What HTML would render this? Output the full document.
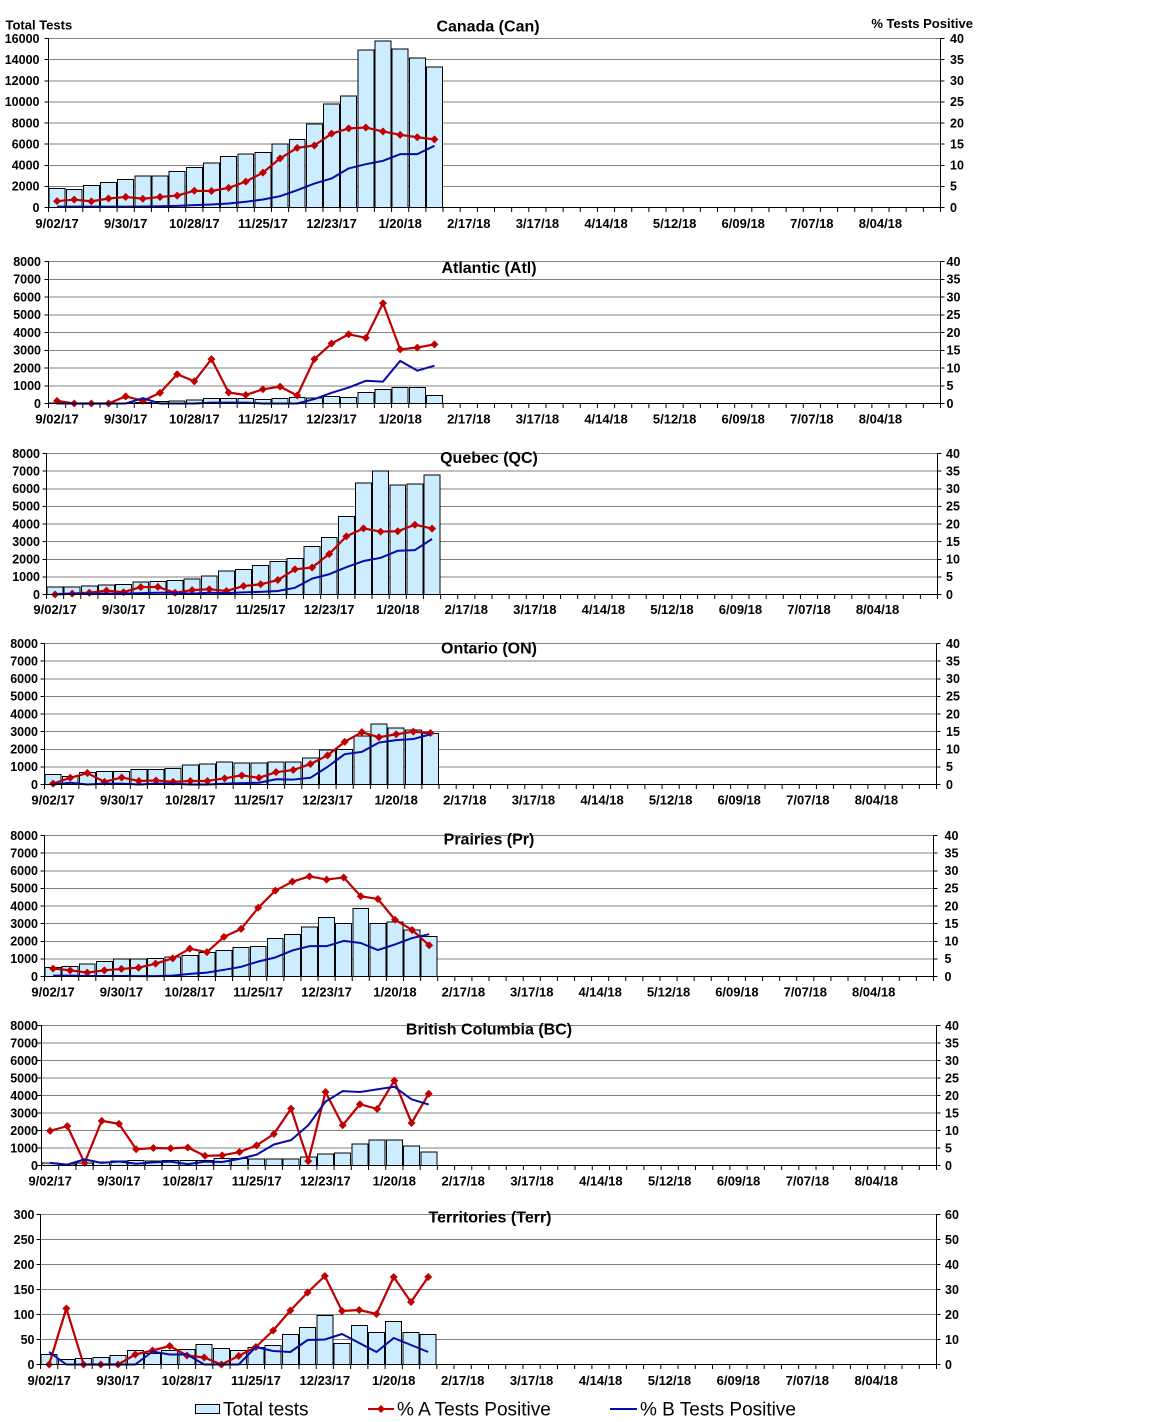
<!DOCTYPE html>
<html><head><meta charset="utf-8"><style>
body{margin:0;background:#fff}
svg{display:block;font-family:"Liberation Sans",Arial,sans-serif}
.g{stroke:#808080;stroke-width:1;fill:none;shape-rendering:crispEdges}
.ax{stroke:#000;stroke-width:1;fill:none;shape-rendering:crispEdges}
.tk{stroke:#000;stroke-width:4;fill:none}
.yl{font-size:12.5px;font-weight:bold;text-anchor:end}
.yr{font-size:12.5px;font-weight:bold}
.xl{font-size:13px;font-weight:bold;text-anchor:middle}
.tt{font-size:16px;font-weight:bold;text-anchor:middle}
.bars rect{fill:#CCECFF;stroke:#000;stroke-width:1;vector-effect:non-scaling-stroke;shape-rendering:crispEdges}
.ra{fill:none;stroke:#C00000;stroke-width:2.2;stroke-linejoin:round;vector-effect:non-scaling-stroke}
.bl{fill:none;stroke:#0A0AA8;stroke-width:2;stroke-linejoin:round;vector-effect:non-scaling-stroke}
.mk{fill:#C00000}
.lg{font-size:19px}
</style></head><body>
<svg width="1152" height="1422" viewBox="0 0 1152 1422">
<defs>
<path id="mC" d="M-.233 0L0 378.7L.233 0L0 -378.7Z"/>
<path id="mA" d="M-.233 0L0 225.4L.233 0L0 -225.4Z"/>
<path id="mQ" d="M-.233 0L0 227L.233 0L0 -227Z"/>
<path id="mP" d="M-.234 0L0 227L.234 0L0 -227Z"/>
<path id="mB" d="M-.232 0L0 228.6L.232 0L0 -228.6Z"/>
<path id="mT" d="M-.232 0L0 8L.232 0L0 -8Z"/>
</defs>
<rect width="1152" height="1422" fill="#fff"/>

<text x="5.5" y="29.3" style="font-size:13px;font-weight:bold">Total Tests</text>
<text x="973" y="28" style="font-size:13px;font-weight:bold;text-anchor:end">%  Tests  Positive</text>

<!-- ===== CANADA ===== -->
<g transform="translate(48.5,38.5)">
<path class="g" d="M0 0H892M0 21.125H892M0 42.25H892M0 63.375H892M0 84.5H892M0 105.625H892M0 126.75H892M0 147.875H892"/>
<g transform="translate(0,169) scale(17.1538,-0.0105625)">
<g class="bars">
<rect x="0.035" width=".93" height="1800"/><rect x="1.035" width=".93" height="1700"/><rect x="2.035" width=".93" height="2100"/><rect x="3.035" width=".93" height="2350"/><rect x="4.035" width=".93" height="2650"/><rect x="5.035" width=".93" height="3000"/><rect x="6.035" width=".93" height="3000"/><rect x="7.035" width=".93" height="3400"/><rect x="8.035" width=".93" height="3800"/><rect x="9.035" width=".93" height="4200"/><rect x="10.035" width=".93" height="4850"/><rect x="11.035" width=".93" height="5050"/><rect x="12.035" width=".93" height="5200"/><rect x="13.035" width=".93" height="6000"/><rect x="14.035" width=".93" height="6450"/><rect x="15.035" width=".93" height="7900"/><rect x="16.035" width=".93" height="9800"/><rect x="17.035" width=".93" height="10550"/><rect x="18.035" width=".93" height="14900"/><rect x="19.035" width=".93" height="15750"/><rect x="20.035" width=".93" height="15000"/><rect x="21.035" width=".93" height="14150"/><rect x="22.035" width=".93" height="13300"/>
</g>
<polyline class="ra" points="0.5,600 1.5,750 2.5,580 3.5,850 4.5,1000 5.5,830 6.5,1000 7.5,1130 8.5,1580 9.5,1560 10.5,1860 11.5,2450 12.5,3300 13.5,4650 14.5,5650 15.5,5870 16.5,6990 17.5,7490 18.5,7570 19.5,7200 20.5,6880 21.5,6650 22.5,6450"/>
<g class="mk"><use href="#mC" x="0.5" y="600"/><use href="#mC" x="1.5" y="750"/><use href="#mC" x="2.5" y="580"/><use href="#mC" x="3.5" y="850"/><use href="#mC" x="4.5" y="1000"/><use href="#mC" x="5.5" y="830"/><use href="#mC" x="6.5" y="1000"/><use href="#mC" x="7.5" y="1130"/><use href="#mC" x="8.5" y="1580"/><use href="#mC" x="9.5" y="1560"/><use href="#mC" x="10.5" y="1860"/><use href="#mC" x="11.5" y="2450"/><use href="#mC" x="12.5" y="3300"/><use href="#mC" x="13.5" y="4650"/><use href="#mC" x="14.5" y="5650"/><use href="#mC" x="15.5" y="5870"/><use href="#mC" x="16.5" y="6990"/><use href="#mC" x="17.5" y="7490"/><use href="#mC" x="18.5" y="7570"/><use href="#mC" x="19.5" y="7200"/><use href="#mC" x="20.5" y="6880"/><use href="#mC" x="21.5" y="6650"/><use href="#mC" x="22.5" y="6450"/></g>
<polyline class="bl" points="0.5,80 1.5,80 2.5,80 3.5,80 4.5,80 5.5,100 6.5,120 7.5,150 8.5,220 9.5,280 10.5,380 11.5,540 12.5,760 13.5,1070 14.5,1640 15.5,2270 16.5,2750 17.5,3700 18.5,4100 19.5,4420 20.5,5050 21.5,5050 22.5,5840"/>
</g>
<line class="tk" x1="-0.5" y1="171.5" x2="892.5" y2="171.5" stroke-dasharray="1 16.1538"/>
<path class="ax" d="M0 0V169H892V0M-4 0H0M-4 21.125H0M-4 42.25H0M-4 63.375H0M-4 84.5H0M-4 105.625H0M-4 126.75H0M-4 147.875H0M-4 169H0M892 0H896M892 21.125H896M892 42.25H896M892 63.375H896M892 84.5H896M892 105.625H896M892 126.75H896M892 147.875H896M892 169H896"/>
<text class="tt" x="439.5" y="-7">Canada (Can)</text>
<text class="yl" x="-9" y="4.3">16000</text><text class="yl" x="-9" y="25.4">14000</text><text class="yl" x="-9" y="46.6">12000</text><text class="yl" x="-9" y="67.7">10000</text><text class="yl" x="-9" y="88.8">8000</text><text class="yl" x="-9" y="109.9">6000</text><text class="yl" x="-9" y="131.1">4000</text><text class="yl" x="-9" y="152.2">2000</text><text class="yl" x="-9" y="173.3">0</text>
<text class="yr" x="901.5" y="4.3">40</text><text class="yr" x="901.5" y="25.4">35</text><text class="yr" x="901.5" y="46.6">30</text><text class="yr" x="901.5" y="67.7">25</text><text class="yr" x="901.5" y="88.8">20</text><text class="yr" x="901.5" y="109.9">15</text><text class="yr" x="901.5" y="131.1">10</text><text class="yr" x="901.5" y="152.2">5</text><text class="yr" x="901.5" y="173.3">0</text>
<text class="xl" x="8.58" y="189.5">9/02/17</text><text class="xl" x="77.19" y="189.5">9/30/17</text><text class="xl" x="145.81" y="189.5">10/28/17</text><text class="xl" x="214.42" y="189.5">11/25/17</text><text class="xl" x="283.04" y="189.5">12/23/17</text><text class="xl" x="351.65" y="189.5">1/20/18</text><text class="xl" x="420.27" y="189.5">2/17/18</text><text class="xl" x="488.88" y="189.5">3/17/18</text><text class="xl" x="557.5" y="189.5">4/14/18</text><text class="xl" x="626.12" y="189.5">5/12/18</text><text class="xl" x="694.73" y="189.5">6/09/18</text><text class="xl" x="763.35" y="189.5">7/07/18</text><text class="xl" x="831.96" y="189.5">8/04/18</text>
</g>

<!-- ===== ATLANTIC ===== -->
<g transform="translate(48.5,261.5)">
<path class="g" d="M0 0H892M0 17.75H892M0 35.5H892M0 53.25H892M0 71H892M0 88.75H892M0 106.5H892M0 124.25H892"/>
<g transform="translate(0,142) scale(17.1538,-0.01775)">
<g class="bars">
<rect x="0.035" width=".93" height="30"/><rect x="1.035" width=".93" height="30"/><rect x="2.035" width=".93" height="30"/><rect x="3.035" width=".93" height="30"/><rect x="4.035" width=".93" height="40"/><rect x="5.035" width=".93" height="60"/><rect x="6.035" width=".93" height="100"/><rect x="7.035" width=".93" height="150"/><rect x="8.035" width=".93" height="200"/><rect x="9.035" width=".93" height="270"/><rect x="10.035" width=".93" height="270"/><rect x="11.035" width=".93" height="270"/><rect x="12.035" width=".93" height="220"/><rect x="13.035" width=".93" height="270"/><rect x="14.035" width=".93" height="330"/><rect x="15.035" width=".93" height="300"/><rect x="16.035" width=".93" height="400"/><rect x="17.035" width=".93" height="330"/><rect x="18.035" width=".93" height="620"/><rect x="19.035" width=".93" height="800"/><rect x="20.035" width=".93" height="900"/><rect x="21.035" width=".93" height="900"/><rect x="22.035" width=".93" height="450"/>
</g>
<polyline class="ra" points="0.5,150 1.5,0 2.5,0 3.5,0 4.5,400 5.5,150 6.5,600 7.5,1650 8.5,1250 9.5,2500 10.5,620 11.5,480 12.5,800 13.5,950 14.5,450 15.5,2500 16.5,3380 17.5,3900 18.5,3700 19.5,5650 20.5,3050 21.5,3150 22.5,3330"/>
<g class="mk"><use href="#mA" x="0.5" y="150"/><use href="#mA" x="1.5" y="0"/><use href="#mA" x="2.5" y="0"/><use href="#mA" x="3.5" y="0"/><use href="#mA" x="4.5" y="400"/><use href="#mA" x="5.5" y="150"/><use href="#mA" x="6.5" y="600"/><use href="#mA" x="7.5" y="1650"/><use href="#mA" x="8.5" y="1250"/><use href="#mA" x="9.5" y="2500"/><use href="#mA" x="10.5" y="620"/><use href="#mA" x="11.5" y="480"/><use href="#mA" x="12.5" y="800"/><use href="#mA" x="13.5" y="950"/><use href="#mA" x="14.5" y="450"/><use href="#mA" x="15.5" y="2500"/><use href="#mA" x="16.5" y="3380"/><use href="#mA" x="17.5" y="3900"/><use href="#mA" x="18.5" y="3700"/><use href="#mA" x="19.5" y="5650"/><use href="#mA" x="20.5" y="3050"/><use href="#mA" x="21.5" y="3150"/><use href="#mA" x="22.5" y="3330"/></g>
<polyline class="bl" points="0.5,0 1.5,0 2.5,0 3.5,0 4.5,0 5.5,300 6.5,0 7.5,0 8.5,0 9.5,50 10.5,50 11.5,50 12.5,0 13.5,0 14.5,0 15.5,250 16.5,600 17.5,900 18.5,1280 19.5,1230 20.5,2400 21.5,1850 22.5,2130"/>
</g>
<line class="tk" x1="-0.5" y1="144.5" x2="892.5" y2="144.5" stroke-dasharray="1 16.1538"/>
<path class="ax" d="M0 0V142H892V0M-4 0H0M-4 17.75H0M-4 35.5H0M-4 53.25H0M-4 71H0M-4 88.75H0M-4 106.5H0M-4 124.25H0M-4 142H0M892 0H896M892 17.75H896M892 35.5H896M892 53.25H896M892 71H896M892 88.75H896M892 106.5H896M892 124.25H896M892 142H896"/>
<text class="tt" x="440.5" y="11.7">Atlantic (Atl)</text>
<text class="yl" x="-7.5" y="4.3">8000</text><text class="yl" x="-7.5" y="22">7000</text><text class="yl" x="-7.5" y="39.8">6000</text><text class="yl" x="-7.5" y="57.5">5000</text><text class="yl" x="-7.5" y="75.3">4000</text><text class="yl" x="-7.5" y="93">3000</text><text class="yl" x="-7.5" y="110.8">2000</text><text class="yl" x="-7.5" y="128.5">1000</text><text class="yl" x="-7.5" y="146.3">0</text>
<text class="yr" x="898" y="4.3">40</text><text class="yr" x="898" y="22">35</text><text class="yr" x="898" y="39.8">30</text><text class="yr" x="898" y="57.5">25</text><text class="yr" x="898" y="75.3">20</text><text class="yr" x="898" y="93">15</text><text class="yr" x="898" y="110.8">10</text><text class="yr" x="898" y="128.5">5</text><text class="yr" x="898" y="146.3">0</text>
<text class="xl" x="8.58" y="162">9/02/17</text><text class="xl" x="77.19" y="162">9/30/17</text><text class="xl" x="145.81" y="162">10/28/17</text><text class="xl" x="214.42" y="162">11/25/17</text><text class="xl" x="283.04" y="162">12/23/17</text><text class="xl" x="351.65" y="162">1/20/18</text><text class="xl" x="420.27" y="162">2/17/18</text><text class="xl" x="488.88" y="162">3/17/18</text><text class="xl" x="557.5" y="162">4/14/18</text><text class="xl" x="626.12" y="162">5/12/18</text><text class="xl" x="694.73" y="162">6/09/18</text><text class="xl" x="763.35" y="162">7/07/18</text><text class="xl" x="831.96" y="162">8/04/18</text>
</g>

<!-- ===== QUEBEC ===== -->
<g transform="translate(46.5,453.5)">
<path class="g" d="M0 0H891M0 17.625H891M0 35.25H891M0 52.875H891M0 70.5H891M0 88.125H891M0 105.75H891M0 123.375H891"/>
<g transform="translate(0,141) scale(17.1346,-0.017625)">
<g class="bars">
<rect x="0.035" width=".93" height="430"/><rect x="1.035" width=".93" height="430"/><rect x="2.035" width=".93" height="480"/><rect x="3.035" width=".93" height="530"/><rect x="4.035" width=".93" height="580"/><rect x="5.035" width=".93" height="700"/><rect x="6.035" width=".93" height="750"/><rect x="7.035" width=".93" height="800"/><rect x="8.035" width=".93" height="880"/><rect x="9.035" width=".93" height="1050"/><rect x="10.035" width=".93" height="1330"/><rect x="11.035" width=".93" height="1430"/><rect x="12.035" width=".93" height="1650"/><rect x="13.035" width=".93" height="1880"/><rect x="14.035" width=".93" height="2050"/><rect x="15.035" width=".93" height="2730"/><rect x="16.035" width=".93" height="3230"/><rect x="17.035" width=".93" height="4420"/><rect x="18.035" width=".93" height="6330"/><rect x="19.035" width=".93" height="7000"/><rect x="20.035" width=".93" height="6200"/><rect x="21.035" width=".93" height="6270"/><rect x="22.035" width=".93" height="6780"/>
</g>
<polyline class="ra" points="0.5,0 1.5,50 2.5,100 3.5,220 4.5,130 5.5,420 6.5,430 7.5,100 8.5,250 9.5,300 10.5,200 11.5,480 12.5,580 13.5,820 14.5,1430 15.5,1530 16.5,2300 17.5,3300 18.5,3750 19.5,3570 20.5,3590 21.5,3960 22.5,3740"/>
<g class="mk"><use href="#mQ" x="0.5" y="0"/><use href="#mQ" x="1.5" y="50"/><use href="#mQ" x="2.5" y="100"/><use href="#mQ" x="3.5" y="220"/><use href="#mQ" x="4.5" y="130"/><use href="#mQ" x="5.5" y="420"/><use href="#mQ" x="6.5" y="430"/><use href="#mQ" x="7.5" y="100"/><use href="#mQ" x="8.5" y="250"/><use href="#mQ" x="9.5" y="300"/><use href="#mQ" x="10.5" y="200"/><use href="#mQ" x="11.5" y="480"/><use href="#mQ" x="12.5" y="580"/><use href="#mQ" x="13.5" y="820"/><use href="#mQ" x="14.5" y="1430"/><use href="#mQ" x="15.5" y="1530"/><use href="#mQ" x="16.5" y="2300"/><use href="#mQ" x="17.5" y="3300"/><use href="#mQ" x="18.5" y="3750"/><use href="#mQ" x="19.5" y="3570"/><use href="#mQ" x="20.5" y="3590"/><use href="#mQ" x="21.5" y="3960"/><use href="#mQ" x="22.5" y="3740"/></g>
<polyline class="bl" points="0.5,30 1.5,50 2.5,50 3.5,50 4.5,50 5.5,80 6.5,100 7.5,100 8.5,50 9.5,100 10.5,80 11.5,120 12.5,150 13.5,200 14.5,380 15.5,900 16.5,1150 17.5,1550 18.5,1900 19.5,2080 20.5,2480 21.5,2520 22.5,3150"/>
</g>
<line class="tk" x1="-0.5" y1="143.5" x2="891.5" y2="143.5" stroke-dasharray="1 16.1346"/>
<path class="ax" d="M0 0V141H891V0M-4 0H0M-4 17.625H0M-4 35.25H0M-4 52.875H0M-4 70.5H0M-4 88.125H0M-4 105.75H0M-4 123.375H0M-4 141H0M891 0H895M891 17.625H895M891 35.25H895M891 52.875H895M891 70.5H895M891 88.125H895M891 105.75H895M891 123.375H895M891 141H895"/>
<text class="tt" x="442.5" y="9.5">Quebec (QC)</text>
<text class="yl" x="-6.5" y="4.3">8000</text><text class="yl" x="-6.5" y="21.9">7000</text><text class="yl" x="-6.5" y="39.6">6000</text><text class="yl" x="-6.5" y="57.2">5000</text><text class="yl" x="-6.5" y="74.8">4000</text><text class="yl" x="-6.5" y="92.4">3000</text><text class="yl" x="-6.5" y="110.1">2000</text><text class="yl" x="-6.5" y="127.7">1000</text><text class="yl" x="-6.5" y="145.3">0</text>
<text class="yr" x="899.5" y="4.3">40</text><text class="yr" x="899.5" y="21.9">35</text><text class="yr" x="899.5" y="39.6">30</text><text class="yr" x="899.5" y="57.2">25</text><text class="yr" x="899.5" y="74.8">20</text><text class="yr" x="899.5" y="92.4">15</text><text class="yr" x="899.5" y="110.1">10</text><text class="yr" x="899.5" y="127.7">5</text><text class="yr" x="899.5" y="145.3">0</text>
<text class="xl" x="8.57" y="160.5">9/02/17</text><text class="xl" x="77.11" y="160.5">9/30/17</text><text class="xl" x="145.64" y="160.5">10/28/17</text><text class="xl" x="214.18" y="160.5">11/25/17</text><text class="xl" x="282.72" y="160.5">12/23/17</text><text class="xl" x="351.26" y="160.5">1/20/18</text><text class="xl" x="419.8" y="160.5">2/17/18</text><text class="xl" x="488.34" y="160.5">3/17/18</text><text class="xl" x="556.87" y="160.5">4/14/18</text><text class="xl" x="625.41" y="160.5">5/12/18</text><text class="xl" x="693.95" y="160.5">6/09/18</text><text class="xl" x="762.49" y="160.5">7/07/18</text><text class="xl" x="831.03" y="160.5">8/04/18</text>
</g>

<!-- ===== ONTARIO ===== -->
<g transform="translate(44.5,643.5)">
<path class="g" d="M0 0H892M0 17.625H892M0 35.25H892M0 52.875H892M0 70.5H892M0 88.125H892M0 105.75H892M0 123.375H892"/>
<g transform="translate(0,141) scale(17.1538,-0.017625)">
<g class="bars">
<rect x="0.035" width=".93" height="580"/><rect x="1.035" width=".93" height="450"/><rect x="2.035" width=".93" height="680"/><rect x="3.035" width=".93" height="750"/><rect x="4.035" width=".93" height="750"/><rect x="5.035" width=".93" height="850"/><rect x="6.035" width=".93" height="850"/><rect x="7.035" width=".93" height="920"/><rect x="8.035" width=".93" height="1100"/><rect x="9.035" width=".93" height="1150"/><rect x="10.035" width=".93" height="1280"/><rect x="11.035" width=".93" height="1220"/><rect x="12.035" width=".93" height="1220"/><rect x="13.035" width=".93" height="1280"/><rect x="14.035" width=".93" height="1280"/><rect x="15.035" width=".93" height="1500"/><rect x="16.035" width=".93" height="1960"/><rect x="17.035" width=".93" height="2000"/><rect x="18.035" width=".93" height="2740"/><rect x="19.035" width=".93" height="3420"/><rect x="20.035" width=".93" height="3200"/><rect x="21.035" width=".93" height="3080"/><rect x="22.035" width=".93" height="2900"/>
</g>
<polyline class="ra" points="0.5,50 1.5,380 2.5,650 3.5,150 4.5,400 5.5,200 6.5,230 7.5,150 8.5,200 9.5,200 10.5,350 11.5,520 12.5,380 13.5,700 14.5,820 15.5,1160 16.5,1650 17.5,2420 18.5,2970 19.5,2680 20.5,2850 21.5,3000 22.5,2920"/>
<g class="mk"><use href="#mQ" x="0.5" y="50"/><use href="#mQ" x="1.5" y="380"/><use href="#mQ" x="2.5" y="650"/><use href="#mQ" x="3.5" y="150"/><use href="#mQ" x="4.5" y="400"/><use href="#mQ" x="5.5" y="200"/><use href="#mQ" x="6.5" y="230"/><use href="#mQ" x="7.5" y="150"/><use href="#mQ" x="8.5" y="200"/><use href="#mQ" x="9.5" y="200"/><use href="#mQ" x="10.5" y="350"/><use href="#mQ" x="11.5" y="520"/><use href="#mQ" x="12.5" y="380"/><use href="#mQ" x="13.5" y="700"/><use href="#mQ" x="14.5" y="820"/><use href="#mQ" x="15.5" y="1160"/><use href="#mQ" x="16.5" y="1650"/><use href="#mQ" x="17.5" y="2420"/><use href="#mQ" x="18.5" y="2970"/><use href="#mQ" x="19.5" y="2680"/><use href="#mQ" x="20.5" y="2850"/><use href="#mQ" x="21.5" y="3000"/><use href="#mQ" x="22.5" y="2920"/></g>
<polyline class="bl" points="0.5,0 1.5,100 2.5,0 3.5,50 4.5,50 5.5,0 6.5,50 7.5,50 8.5,0 9.5,0 10.5,50 11.5,80 12.5,100 13.5,300 14.5,280 15.5,380 16.5,1000 17.5,1720 18.5,1850 19.5,2380 20.5,2520 21.5,2580 22.5,2850"/>
</g>
<line class="tk" x1="-0.5" y1="143.5" x2="892.5" y2="143.5" stroke-dasharray="1 16.1538"/>
<path class="ax" d="M0 0V141H892V0M-4 0H0M-4 17.625H0M-4 35.25H0M-4 52.875H0M-4 70.5H0M-4 88.125H0M-4 105.75H0M-4 123.375H0M-4 141H0M892 0H896M892 17.625H896M892 35.25H896M892 52.875H896M892 70.5H896M892 88.125H896M892 105.75H896M892 123.375H896M892 141H896"/>
<text class="tt" x="444.5" y="10">Ontario (ON)</text>
<text class="yl" x="-6.5" y="4.3">8000</text><text class="yl" x="-6.5" y="21.9">7000</text><text class="yl" x="-6.5" y="39.6">6000</text><text class="yl" x="-6.5" y="57.2">5000</text><text class="yl" x="-6.5" y="74.8">4000</text><text class="yl" x="-6.5" y="92.4">3000</text><text class="yl" x="-6.5" y="110.1">2000</text><text class="yl" x="-6.5" y="127.7">1000</text><text class="yl" x="-6.5" y="145.3">0</text>
<text class="yr" x="901.5" y="4.3">40</text><text class="yr" x="901.5" y="21.9">35</text><text class="yr" x="901.5" y="39.6">30</text><text class="yr" x="901.5" y="57.2">25</text><text class="yr" x="901.5" y="74.8">20</text><text class="yr" x="901.5" y="92.4">15</text><text class="yr" x="901.5" y="110.1">10</text><text class="yr" x="901.5" y="127.7">5</text><text class="yr" x="901.5" y="145.3">0</text>
<text class="xl" x="8.58" y="161">9/02/17</text><text class="xl" x="77.19" y="161">9/30/17</text><text class="xl" x="145.81" y="161">10/28/17</text><text class="xl" x="214.42" y="161">11/25/17</text><text class="xl" x="283.04" y="161">12/23/17</text><text class="xl" x="351.65" y="161">1/20/18</text><text class="xl" x="420.27" y="161">2/17/18</text><text class="xl" x="488.88" y="161">3/17/18</text><text class="xl" x="557.5" y="161">4/14/18</text><text class="xl" x="626.12" y="161">5/12/18</text><text class="xl" x="694.73" y="161">6/09/18</text><text class="xl" x="763.35" y="161">7/07/18</text><text class="xl" x="831.96" y="161">8/04/18</text>
</g>

<!-- ===== PRAIRIES ===== -->
<g transform="translate(44.5,835.5)">
<path class="g" d="M0 0H889M0 17.625H889M0 35.25H889M0 52.875H889M0 70.5H889M0 88.125H889M0 105.75H889M0 123.375H889"/>
<g transform="translate(0,141) scale(17.0962,-0.017625)">
<g class="bars">
<rect x="0.035" width=".93" height="500"/><rect x="1.035" width=".93" height="580"/><rect x="2.035" width=".93" height="700"/><rect x="3.035" width=".93" height="850"/><rect x="4.035" width=".93" height="980"/><rect x="5.035" width=".93" height="980"/><rect x="6.035" width=".93" height="1020"/><rect x="7.035" width=".93" height="1100"/><rect x="8.035" width=".93" height="1200"/><rect x="9.035" width=".93" height="1350"/><rect x="10.035" width=".93" height="1480"/><rect x="11.035" width=".93" height="1650"/><rect x="12.035" width=".93" height="1700"/><rect x="13.035" width=".93" height="2150"/><rect x="14.035" width=".93" height="2380"/><rect x="15.035" width=".93" height="2820"/><rect x="16.035" width=".93" height="3350"/><rect x="17.035" width=".93" height="3000"/><rect x="18.035" width=".93" height="3870"/><rect x="19.035" width=".93" height="3000"/><rect x="20.035" width=".93" height="3100"/><rect x="21.035" width=".93" height="2650"/><rect x="22.035" width=".93" height="2270"/>
</g>
<polyline class="ra" points="0.5,450 1.5,350 2.5,220 3.5,350 4.5,430 5.5,500 6.5,730 7.5,1030 8.5,1580 9.5,1380 10.5,2250 11.5,2700 12.5,3900 13.5,4870 14.5,5380 15.5,5680 16.5,5500 17.5,5620 18.5,4550 19.5,4400 20.5,3220 21.5,2640 22.5,1770"/>
<g class="mk"><use href="#mP" x="0.5" y="450"/><use href="#mP" x="1.5" y="350"/><use href="#mP" x="2.5" y="220"/><use href="#mP" x="3.5" y="350"/><use href="#mP" x="4.5" y="430"/><use href="#mP" x="5.5" y="500"/><use href="#mP" x="6.5" y="730"/><use href="#mP" x="7.5" y="1030"/><use href="#mP" x="8.5" y="1580"/><use href="#mP" x="9.5" y="1380"/><use href="#mP" x="10.5" y="2250"/><use href="#mP" x="11.5" y="2700"/><use href="#mP" x="12.5" y="3900"/><use href="#mP" x="13.5" y="4870"/><use href="#mP" x="14.5" y="5380"/><use href="#mP" x="15.5" y="5680"/><use href="#mP" x="16.5" y="5500"/><use href="#mP" x="17.5" y="5620"/><use href="#mP" x="18.5" y="4550"/><use href="#mP" x="19.5" y="4400"/><use href="#mP" x="20.5" y="3220"/><use href="#mP" x="21.5" y="2640"/><use href="#mP" x="22.5" y="1770"/></g>
<polyline class="bl" points="0.5,50 1.5,50 2.5,30 3.5,30 4.5,30 5.5,20 6.5,20 7.5,50 8.5,150 9.5,220 10.5,380 11.5,550 12.5,850 13.5,1080 14.5,1480 15.5,1720 16.5,1720 17.5,2020 18.5,1900 19.5,1500 20.5,1820 21.5,2180 22.5,2400"/>
</g>
<line class="tk" x1="-0.5" y1="143.5" x2="889.5" y2="143.5" stroke-dasharray="1 16.0962"/>
<path class="ax" d="M0 0V141H889V0M-4 0H0M-4 17.625H0M-4 35.25H0M-4 52.875H0M-4 70.5H0M-4 88.125H0M-4 105.75H0M-4 123.375H0M-4 141H0M889 0H893M889 17.625H893M889 35.25H893M889 52.875H893M889 70.5H893M889 88.125H893M889 105.75H893M889 123.375H893M889 141H893"/>
<text class="tt" x="444.5" y="9">Prairies (Pr)</text>
<text class="yl" x="-6.5" y="4.3">8000</text><text class="yl" x="-6.5" y="21.9">7000</text><text class="yl" x="-6.5" y="39.6">6000</text><text class="yl" x="-6.5" y="57.2">5000</text><text class="yl" x="-6.5" y="74.8">4000</text><text class="yl" x="-6.5" y="92.4">3000</text><text class="yl" x="-6.5" y="110.1">2000</text><text class="yl" x="-6.5" y="127.7">1000</text><text class="yl" x="-6.5" y="145.3">0</text>
<text class="yr" x="900" y="4.3">40</text><text class="yr" x="900" y="21.9">35</text><text class="yr" x="900" y="39.6">30</text><text class="yr" x="900" y="57.2">25</text><text class="yr" x="900" y="74.8">20</text><text class="yr" x="900" y="92.4">15</text><text class="yr" x="900" y="110.1">10</text><text class="yr" x="900" y="127.7">5</text><text class="yr" x="900" y="145.3">0</text>
<text class="xl" x="8.55" y="161">9/02/17</text><text class="xl" x="76.93" y="161">9/30/17</text><text class="xl" x="145.32" y="161">10/28/17</text><text class="xl" x="213.7" y="161">11/25/17</text><text class="xl" x="282.09" y="161">12/23/17</text><text class="xl" x="350.47" y="161">1/20/18</text><text class="xl" x="418.86" y="161">2/17/18</text><text class="xl" x="487.24" y="161">3/17/18</text><text class="xl" x="555.63" y="161">4/14/18</text><text class="xl" x="624.01" y="161">5/12/18</text><text class="xl" x="692.4" y="161">6/09/18</text><text class="xl" x="760.78" y="161">7/07/18</text><text class="xl" x="829.17" y="161">8/04/18</text>
</g>

<!-- ===== BRITISH COLUMBIA ===== -->
<g transform="translate(41.5,1025.5)">
<path class="g" d="M0 0H895M0 17.5H895M0 35H895M0 52.5H895M0 70H895M0 87.5H895M0 105H895M0 122.5H895"/>
<g transform="translate(0,140) scale(17.2115,-0.0175)">
<g class="bars">
<rect x="0.035" width=".93" height="150"/><rect x="1.035" width=".93" height="100"/><rect x="2.035" width=".93" height="150"/><rect x="3.035" width=".93" height="200"/><rect x="4.035" width=".93" height="250"/><rect x="5.035" width=".93" height="300"/><rect x="6.035" width=".93" height="250"/><rect x="7.035" width=".93" height="300"/><rect x="8.035" width=".93" height="300"/><rect x="9.035" width=".93" height="300"/><rect x="10.035" width=".93" height="400"/><rect x="11.035" width=".93" height="400"/><rect x="12.035" width=".93" height="380"/><rect x="13.035" width=".93" height="380"/><rect x="14.035" width=".93" height="380"/><rect x="15.035" width=".93" height="480"/><rect x="16.035" width=".93" height="650"/><rect x="17.035" width=".93" height="720"/><rect x="18.035" width=".93" height="1230"/><rect x="19.035" width=".93" height="1450"/><rect x="20.035" width=".93" height="1450"/><rect x="21.035" width=".93" height="1120"/><rect x="22.035" width=".93" height="780"/>
</g>
<polyline class="ra" points="0.5,1980 1.5,2250 2.5,150 3.5,2550 4.5,2380 5.5,930 6.5,1000 7.5,980 8.5,1030 9.5,550 10.5,580 11.5,770 12.5,1150 13.5,1800 14.5,3250 15.5,250 16.5,4200 17.5,2300 18.5,3500 19.5,3230 20.5,4850 21.5,2430 22.5,4100"/>
<g class="mk"><use href="#mB" x="0.5" y="1980"/><use href="#mB" x="1.5" y="2250"/><use href="#mB" x="2.5" y="150"/><use href="#mB" x="3.5" y="2550"/><use href="#mB" x="4.5" y="2380"/><use href="#mB" x="5.5" y="930"/><use href="#mB" x="6.5" y="1000"/><use href="#mB" x="7.5" y="980"/><use href="#mB" x="8.5" y="1030"/><use href="#mB" x="9.5" y="550"/><use href="#mB" x="10.5" y="580"/><use href="#mB" x="11.5" y="770"/><use href="#mB" x="12.5" y="1150"/><use href="#mB" x="13.5" y="1800"/><use href="#mB" x="14.5" y="3250"/><use href="#mB" x="15.5" y="250"/><use href="#mB" x="16.5" y="4200"/><use href="#mB" x="17.5" y="2300"/><use href="#mB" x="18.5" y="3500"/><use href="#mB" x="19.5" y="3230"/><use href="#mB" x="20.5" y="4850"/><use href="#mB" x="21.5" y="2430"/><use href="#mB" x="22.5" y="4100"/></g>
<polyline class="bl" points="0.5,150 1.5,50 2.5,350 3.5,150 4.5,230 5.5,100 6.5,180 7.5,220 8.5,80 9.5,220 10.5,200 11.5,380 12.5,620 13.5,1200 14.5,1450 15.5,2300 16.5,3650 17.5,4250 18.5,4200 19.5,4350 20.5,4500 21.5,3780 22.5,3480"/>
</g>
<line class="tk" x1="-0.5" y1="142.5" x2="895.5" y2="142.5" stroke-dasharray="1 16.2115"/>
<path class="ax" d="M0 0V140H895V0M-4 0H0M-4 17.5H0M-4 35H0M-4 52.5H0M-4 70H0M-4 87.5H0M-4 105H0M-4 122.5H0M-4 140H0M895 0H899M895 17.5H899M895 35H899M895 52.5H899M895 70H899M895 87.5H899M895 105H899M895 122.5H899M895 140H899"/>
<text class="tt" x="447.5" y="9">British Columbia (BC)</text>
<text class="yl" x="-3.5" y="4.3">8000</text><text class="yl" x="-3.5" y="21.8">7000</text><text class="yl" x="-3.5" y="39.3">6000</text><text class="yl" x="-3.5" y="56.8">5000</text><text class="yl" x="-3.5" y="74.3">4000</text><text class="yl" x="-3.5" y="91.8">3000</text><text class="yl" x="-3.5" y="109.3">2000</text><text class="yl" x="-3.5" y="126.8">1000</text><text class="yl" x="-3.5" y="144.3">0</text>
<text class="yr" x="903.5" y="4.3">40</text><text class="yr" x="903.5" y="21.8">35</text><text class="yr" x="903.5" y="39.3">30</text><text class="yr" x="903.5" y="56.8">25</text><text class="yr" x="903.5" y="74.3">20</text><text class="yr" x="903.5" y="91.8">15</text><text class="yr" x="903.5" y="109.3">10</text><text class="yr" x="903.5" y="126.8">5</text><text class="yr" x="903.5" y="144.3">0</text>
<text class="xl" x="8.61" y="160">9/02/17</text><text class="xl" x="77.45" y="160">9/30/17</text><text class="xl" x="146.3" y="160">10/28/17</text><text class="xl" x="215.14" y="160">11/25/17</text><text class="xl" x="283.99" y="160">12/23/17</text><text class="xl" x="352.83" y="160">1/20/18</text><text class="xl" x="421.68" y="160">2/17/18</text><text class="xl" x="490.52" y="160">3/17/18</text><text class="xl" x="559.37" y="160">4/14/18</text><text class="xl" x="628.21" y="160">5/12/18</text><text class="xl" x="697.06" y="160">6/09/18</text><text class="xl" x="765.9" y="160">7/07/18</text><text class="xl" x="834.75" y="160">8/04/18</text>
</g>

<!-- ===== TERRITORIES ===== -->
<g transform="translate(40.5,1214.5)">
<path class="g" d="M0 0H896M0 25H896M0 50H896M0 75H896M0 100H896M0 125H896"/>
<g transform="translate(0,150) scale(17.2308,-0.5)">
<g class="bars">
<rect x="0.035" width=".93" height="20"/><rect x="1.035" width=".93" height="10"/><rect x="2.035" width=".93" height="12"/><rect x="3.035" width=".93" height="14"/><rect x="4.035" width=".93" height="18"/><rect x="5.035" width=".93" height="28"/><rect x="6.035" width=".93" height="22"/><rect x="7.035" width=".93" height="28"/><rect x="8.035" width=".93" height="30"/><rect x="9.035" width=".93" height="40"/><rect x="10.035" width=".93" height="32"/><rect x="11.035" width=".93" height="28"/><rect x="12.035" width=".93" height="34"/><rect x="13.035" width=".93" height="38"/><rect x="14.035" width=".93" height="60"/><rect x="15.035" width=".93" height="74"/><rect x="16.035" width=".93" height="98"/><rect x="17.035" width=".93" height="42"/><rect x="18.035" width=".93" height="78"/><rect x="19.035" width=".93" height="64"/><rect x="20.035" width=".93" height="86"/><rect x="21.035" width=".93" height="64"/><rect x="22.035" width=".93" height="60"/>
</g>
<polyline class="ra" points="0.5,0 1.5,112 2.5,0 3.5,0 4.5,0 5.5,20 6.5,28 7.5,37 8.5,18 9.5,14 10.5,0 11.5,17 12.5,35 13.5,68 14.5,108 15.5,144 16.5,177 17.5,107 18.5,109 19.5,101 20.5,175 21.5,125 22.5,175"/>
<g class="mk"><use href="#mT" x="0.5" y="0"/><use href="#mT" x="1.5" y="112"/><use href="#mT" x="2.5" y="0"/><use href="#mT" x="3.5" y="0"/><use href="#mT" x="4.5" y="0"/><use href="#mT" x="5.5" y="20"/><use href="#mT" x="6.5" y="28"/><use href="#mT" x="7.5" y="37"/><use href="#mT" x="8.5" y="18"/><use href="#mT" x="9.5" y="14"/><use href="#mT" x="10.5" y="0"/><use href="#mT" x="11.5" y="17"/><use href="#mT" x="12.5" y="35"/><use href="#mT" x="13.5" y="68"/><use href="#mT" x="14.5" y="108"/><use href="#mT" x="15.5" y="144"/><use href="#mT" x="16.5" y="177"/><use href="#mT" x="17.5" y="107"/><use href="#mT" x="18.5" y="109"/><use href="#mT" x="19.5" y="101"/><use href="#mT" x="20.5" y="175"/><use href="#mT" x="21.5" y="125"/><use href="#mT" x="22.5" y="175"/></g>
<polyline class="bl" points="0.5,25 1.5,0 2.5,0 3.5,0 4.5,0 5.5,0 6.5,26 7.5,20 8.5,20 9.5,0 10.5,0 11.5,0 12.5,35 13.5,27 14.5,25 15.5,49 16.5,50 17.5,61 18.5,43 19.5,25 20.5,53 21.5,39 22.5,25"/>
</g>
<line class="tk" x1="-0.5" y1="152.5" x2="896.5" y2="152.5" stroke-dasharray="1 16.2308"/>
<path class="ax" d="M0 0V150H896V0M-4 0H0M-4 25H0M-4 50H0M-4 75H0M-4 100H0M-4 125H0M-4 150H0M896 0H900M896 25H900M896 50H900M896 75H900M896 100H900M896 125H900M896 150H900"/>
<text class="tt" x="449.5" y="8">Territories (Terr)</text>
<text class="yl" x="-6" y="4.3">300</text><text class="yl" x="-6" y="29.3">250</text><text class="yl" x="-6" y="54.3">200</text><text class="yl" x="-6" y="79.3">150</text><text class="yl" x="-6" y="104.3">100</text><text class="yl" x="-6" y="129.3">50</text><text class="yl" x="-6" y="154.3">0</text>
<text class="yr" x="904.5" y="4.3">60</text><text class="yr" x="904.5" y="29.3">50</text><text class="yr" x="904.5" y="54.3">40</text><text class="yr" x="904.5" y="79.3">30</text><text class="yr" x="904.5" y="104.3">20</text><text class="yr" x="904.5" y="129.3">10</text><text class="yr" x="904.5" y="154.3">0</text>
<text class="xl" x="8.62" y="170.5">9/02/17</text><text class="xl" x="77.54" y="170.5">9/30/17</text><text class="xl" x="146.46" y="170.5">10/28/17</text><text class="xl" x="215.39" y="170.5">11/25/17</text><text class="xl" x="284.31" y="170.5">12/23/17</text><text class="xl" x="353.23" y="170.5">1/20/18</text><text class="xl" x="422.16" y="170.5">2/17/18</text><text class="xl" x="491.08" y="170.5">3/17/18</text><text class="xl" x="560" y="170.5">4/14/18</text><text class="xl" x="628.93" y="170.5">5/12/18</text><text class="xl" x="697.85" y="170.5">6/09/18</text><text class="xl" x="766.77" y="170.5">7/07/18</text><text class="xl" x="835.7" y="170.5">8/04/18</text>
</g>

<!-- ===== LEGEND ===== -->
<rect x="195.5" y="1404.5" width="24" height="9" fill="#CCECFF" stroke="#000" stroke-width="1"/>
<text class="lg" x="223" y="1415.5">Total tests</text>
<line x1="368" y1="1409" x2="394" y2="1409" stroke="#C00000" stroke-width="2"/>
<path d="M377 1409L381 1405L385 1409L381 1413Z" fill="#C00000"/>
<text class="lg" x="397" y="1415.5">% A Tests Positive</text>
<line x1="610" y1="1409" x2="637" y2="1409" stroke="#0A0AA8" stroke-width="2"/>
<text class="lg" x="640" y="1415.5">% B Tests Positive</text>
</svg>
</body></html>
